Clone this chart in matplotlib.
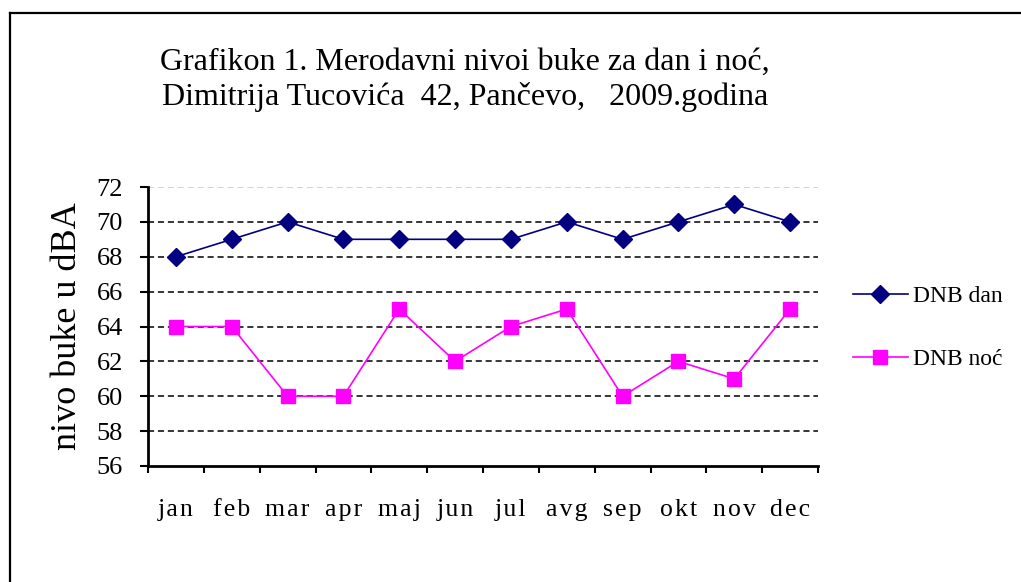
import matplotlib
matplotlib.use('Agg', force=True)

import numpy as np
import matplotlib.pyplot as plt
from matplotlib.lines import Line2D

plt.rcParams['font.family'] = ['Liberation Serif', 'DejaVu Serif']

# ---------- data ----------
months = ['jan', 'feb', 'mar', 'apr', 'maj', 'jun', 'jul', 'avg', 'sep', 'okt', 'nov', 'dec']
dnb_dan = [68, 69, 70, 69, 69, 69, 69, 70, 69, 70, 71, 70]
dnb_noc = [64, 64, 60, 60, 65, 62, 64, 65, 60, 62, 61, 65]
y_ticks = [56, 58, 60, 62, 64, 66, 68, 70, 72]

W, H = 1021, 582
fig = plt.figure(figsize=(W / 100, H / 100), dpi=100)

# outer frame (only top and left edges visible)
fig.add_artist(Line2D([10 / W, 10 / W], [0, 1 - 13 / H], color='black', lw=1.6))
fig.add_artist(Line2D([10 / W, 1], [1 - 13 / H, 1 - 13 / H], color='black', lw=1.6))

ax = fig.add_axes([148 / W, 1 - 466 / H, 670 / W, 279 / H])
x = np.arange(len(months))

# grid lines
for v in y_ticks[1:-1]:
    ax.axhline(v, color='black', lw=1.1, ls=(0, (4, 2.5)), zorder=1)
ax.axhline(72, color='#c8c8c8', lw=1.1, ls=(0, (4, 2.5)), zorder=1)

ax.plot(x, dnb_dan, color='#000080', lw=1.2, marker='D', markersize=9,
        label='DNB dan', zorder=3)
ax.plot(x, dnb_noc, color='#ff00ff', lw=1.2, marker='s', markersize=10.5,
        label='DNB noć', zorder=3)

ax.set_xlim(-0.5, len(months) - 0.5)
ax.set_ylim(56, 72)
ax.set_yticks(y_ticks)
ax.tick_params(axis='y', labelsize=19, length=6, width=1.5, direction='out', pad=12)

# slightly spaced-out month labels as in the original
spaced = ['\u200a'.join(m) for m in months]
ax.set_xticks(np.arange(-0.5, len(months)), labels=[''] * (len(months) + 1))
ax.set_xticks(x, labels=spaced, minor=True)
ax.tick_params(axis='x', which='major', length=5, width=1.5, direction='out')
ax.tick_params(axis='x', which='minor', length=0, labelsize=18.5, pad=24)

for s in ['top', 'right']:
    ax.spines[s].set_visible(False)
for s in ['left', 'bottom']:
    ax.spines[s].set_linewidth(2)

ax.set_ylabel('nivo buke u dBA', fontsize=26, labelpad=9)

fig.text(465 / W, 1 - 62 / H, 'Grafikon 1. Merodavni nivoi buke za dan i noć,',
         fontsize=23, ha='center', va='center')
fig.text(465 / W, 1 - 97 / H, 'Dimitrija Tucovića  42, Pančevo,   2009.godina',
         fontsize=23, ha='center', va='center')

ax.legend(loc='center left', bbox_to_anchor=(832 / W, 1 - 328 / H),
          bbox_transform=fig.transFigure, frameon=False, fontsize=17,
          handlelength=2.3, labelspacing=1.75, handletextpad=0.25)

fig.savefig('out.png', dpi=100)
